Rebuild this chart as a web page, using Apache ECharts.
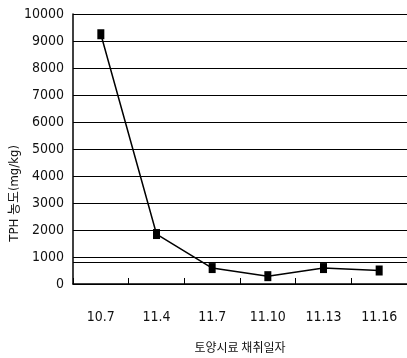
<!DOCTYPE html>
<html>
<head>
<meta charset="utf-8">
<script src="https://cdn.jsdelivr.net/npm/echarts@6/dist/echarts.min.js"></script>
<style>
html,body{margin:0;padding:0;background:#fff;}
#c{width:407px;height:358px;}
</style>
</head>
<body>
<div id="c"></div>
<script>
var categories = ['10.7', '11.4', '11.7', '11.10', '11.13', '11.16'];
var tphValues = [9250, 1850, 590, 290, 590, 500];
var thresholdValue = 800;
var yAxisTitle = 'TPH 농도(mg/kg)';
var xAxisTitle = '토양시료 채취일자';

var fontFam = '"DejaVu Sans Condensed", "Liberation Sans Narrow", "Noto Sans CJK KR", sans-serif';
var chart = echarts.init(document.getElementById('c'), null, {renderer: 'canvas'});
chart.setOption({
  animation: false,
  backgroundColor: '#fff',
  grid: {left: 73, top: 14, width: 336, height: 270},
  xAxis: {
    type: 'category',
    data: categories,
    boundaryGap: true,
    name: xAxisTitle,
    nameLocation: 'middle',
    nameGap: 57,
    nameTextStyle: {fontFamily: '"Noto Sans CJK KR", sans-serif', fontSize: 12, color: '#111'},
    axisLine: {lineStyle: {color: '#000', width: 1.5}},
    axisTick: {show: true, inside: true, length: 6, interval: 0, lineStyle: {color: '#000', width: 1}},
    axisLabel: {fontFamily: fontFam, fontSize: 14, color: '#111', margin: 26, interval: 0}
  },
  yAxis: {
    type: 'value',
    min: 0,
    max: 10000,
    interval: 1000,
    axisLine: {show: true, lineStyle: {color: '#000', width: 1.5}},
    axisTick: {show: false},
    axisLabel: {fontFamily: fontFam, fontSize: 14, color: '#111', margin: 9, formatter: function (v) { return String(v); }},
    splitLine: {show: true, lineStyle: {color: '#000', width: 1}}
  },
  graphic: [{
    type: 'text',
    left: 8,
    top: 145,
    rotation: Math.PI / 2,
    style: {text: yAxisTitle, font: '13px "DejaVu Sans Condensed", "Noto Sans CJK KR", sans-serif', fill: '#111'}
  }],
  series: [{
    type: 'line',
    data: tphValues,
    symbol: 'rect',
    symbolSize: [7, 10],
    itemStyle: {color: '#000'},
    lineStyle: {color: '#000', width: 1.5},
    markLine: {
      silent: true,
      symbol: 'none',
      label: {show: false},
      lineStyle: {color: '#000', type: 'solid', width: 1},
      data: [{yAxis: thresholdValue}]
    }
  }]
});
</script>
</body>
</html>
